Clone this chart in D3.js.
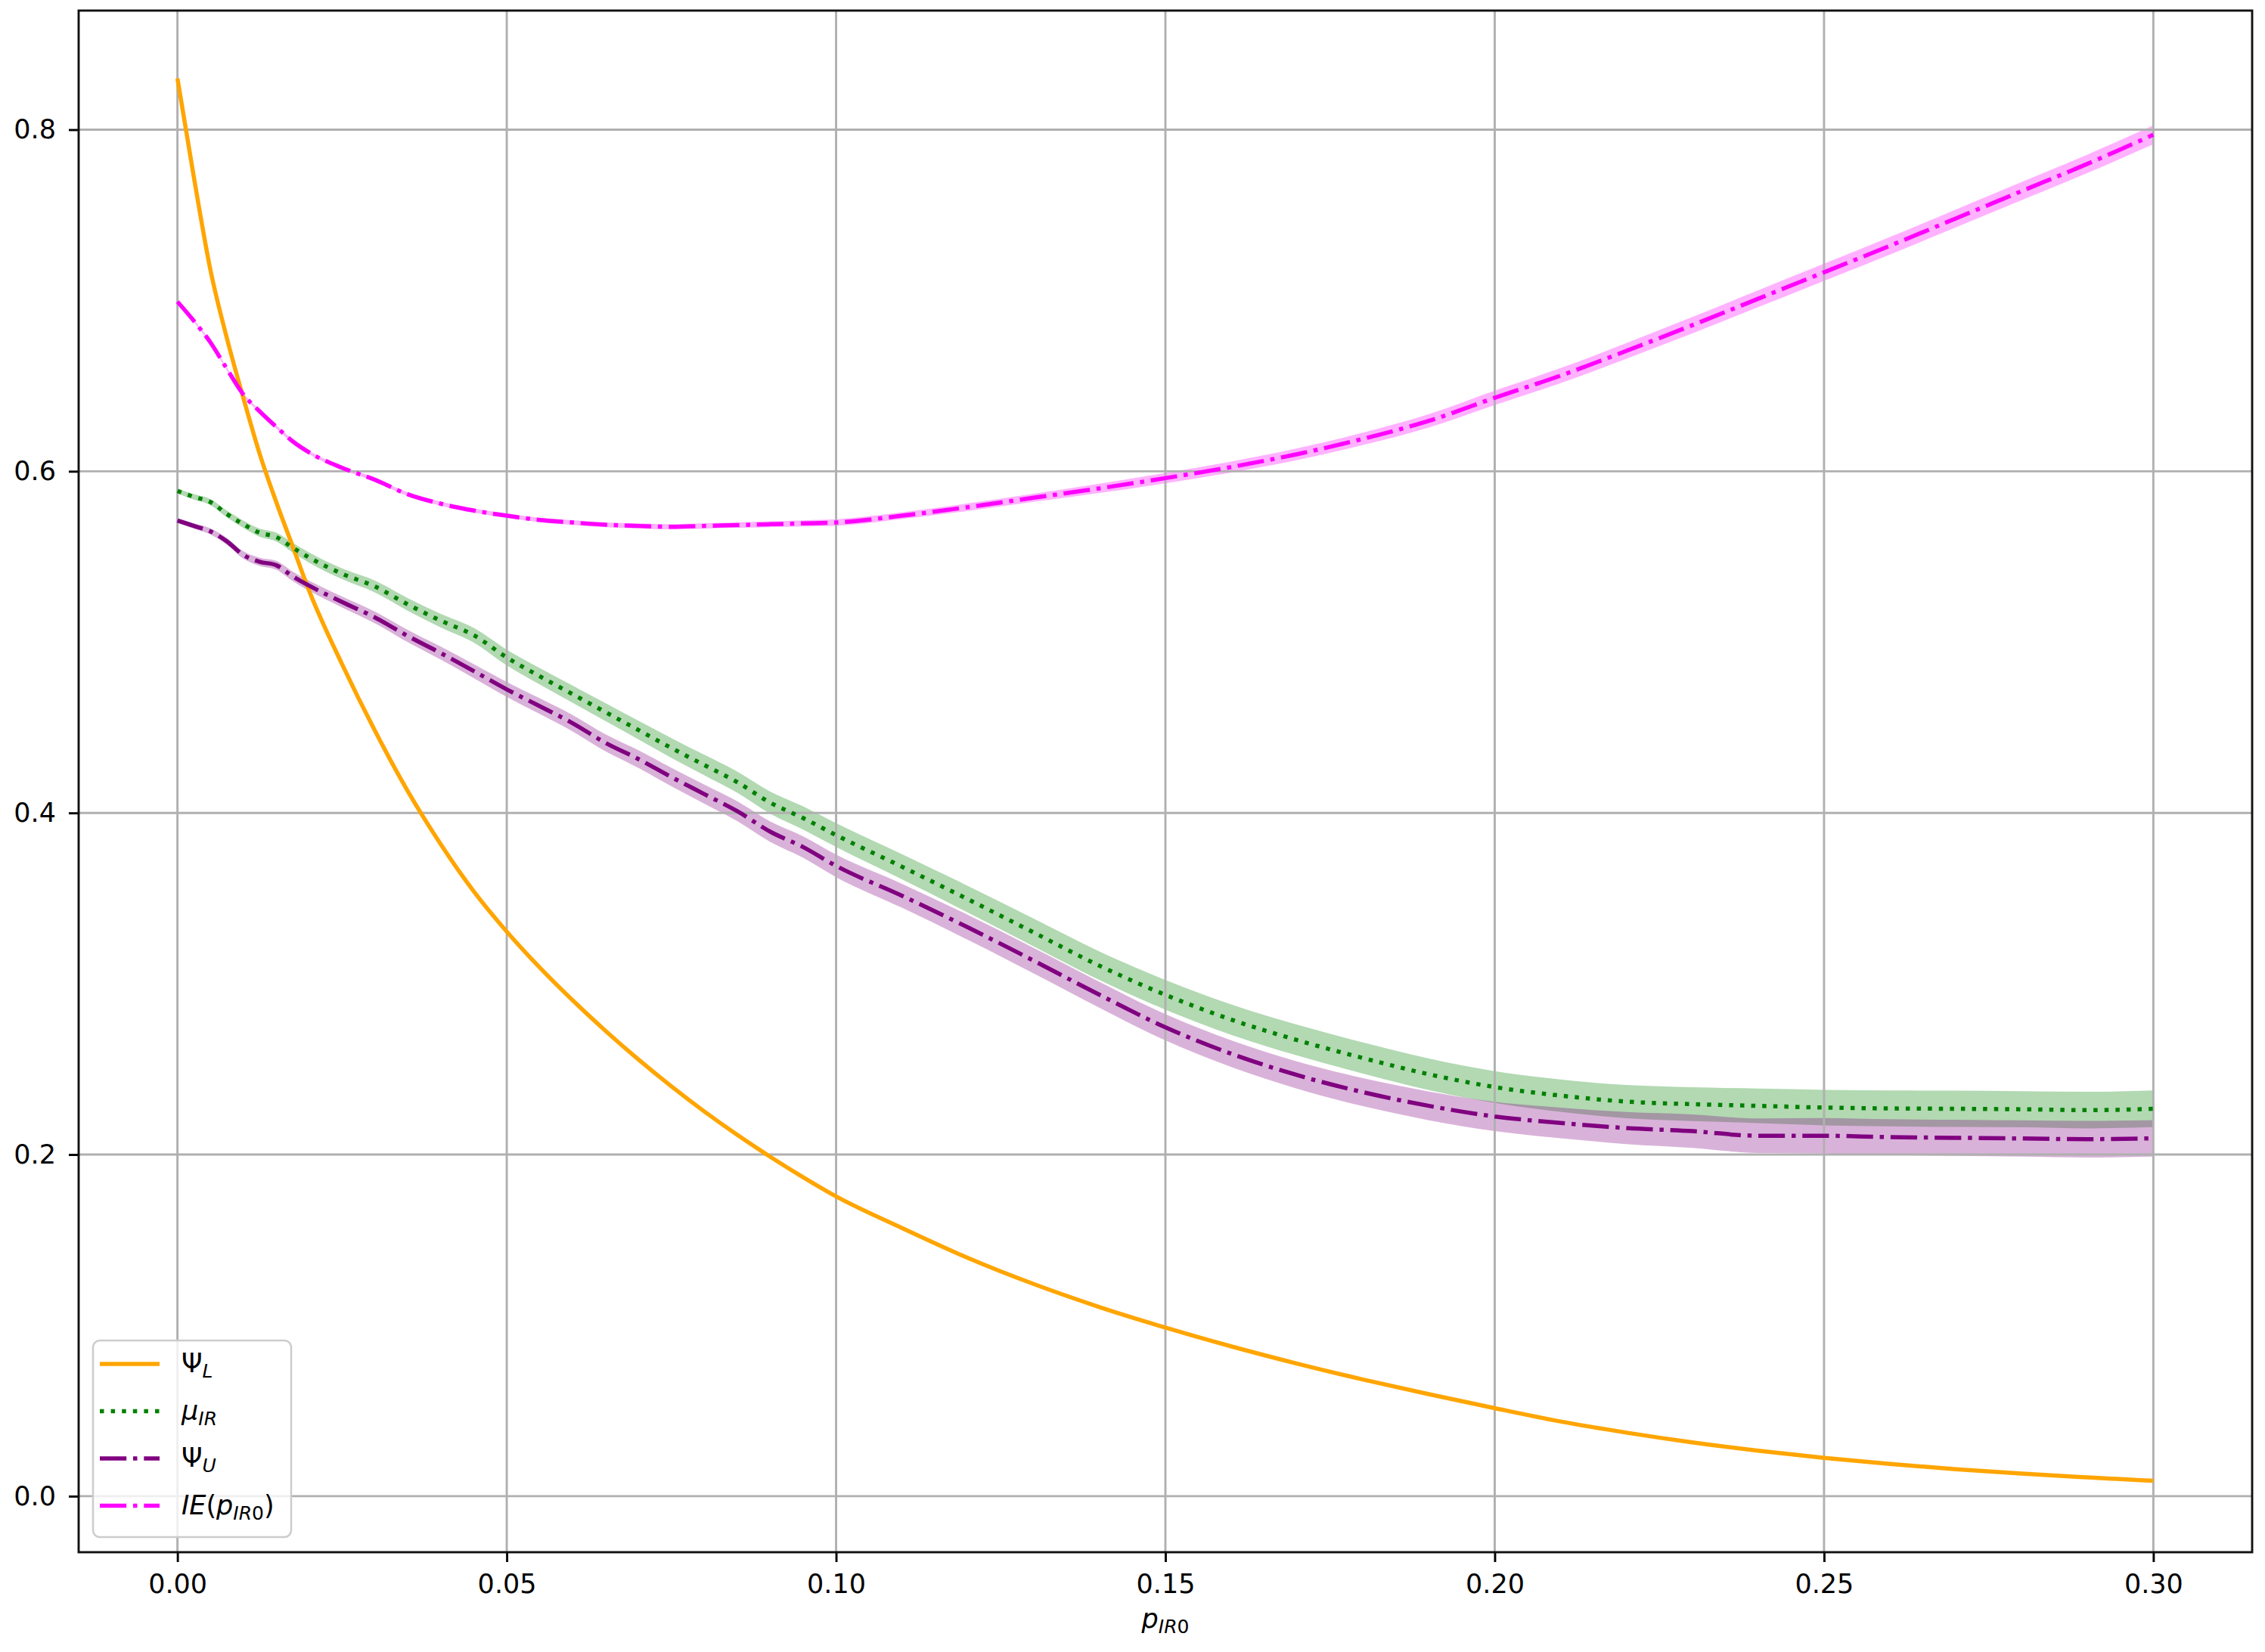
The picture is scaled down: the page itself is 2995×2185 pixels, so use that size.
<!DOCTYPE html>
<html><head><meta charset="utf-8">
<script src="https://cdn.jsdelivr.net/npm/d3@7"></script>
<style>
html,body{margin:0;padding:0;background:#fff;}
svg{display:block;}
text{font-family:"DejaVu Sans",sans-serif;}
</style>
</head><body>
<svg id="c" width="2995" height="2185"></svg>
<script>
// ---- data ----
const xs = [0, 0.0025, 0.005, 0.0075, 0.01, 0.0125, 0.015, 0.0175, 0.02,
  0.025, 0.03, 0.035, 0.04, 0.045, 0.05, 0.055, 0.06, 0.065, 0.07, 0.075, 0.08, 0.085, 0.09, 0.095, 0.10,
  0.11, 0.12, 0.13, 0.14, 0.15, 0.16, 0.17, 0.18, 0.19, 0.20, 0.21, 0.22, 0.23, 0.24, 0.25, 0.26, 0.27, 0.28, 0.29, 0.30];

const psiL = [0.830, 0.772, 0.718, 0.678, 0.643, 0.610, 0.582, 0.556, 0.530,
  0.487, 0.448, 0.4125, 0.3815, 0.354, 0.3305, 0.3095, 0.2903, 0.2724, 0.2556, 0.2399, 0.2252, 0.2115, 0.1987, 0.1867, 0.1755,
  0.157, 0.1395, 0.1242, 0.1107, 0.0987, 0.0877, 0.0776, 0.0683, 0.0597, 0.0515, 0.0437, 0.0372, 0.0315, 0.0266, 0.0224, 0.0189, 0.0158, 0.0132, 0.011, 0.009];

const muIR = [0.5885, 0.585, 0.5820, 0.575, 0.569, 0.564, 0.5615, 0.5553, 0.5495,
  0.540, 0.5325, 0.522, 0.5125, 0.504, 0.491, 0.480, 0.4695, 0.459, 0.4485, 0.438, 0.428, 0.418, 0.406, 0.397, 0.387,
  0.3685, 0.3495, 0.330, 0.3105, 0.2935, 0.279, 0.267, 0.2565, 0.247, 0.2395, 0.2345, 0.231, 0.2295, 0.2285, 0.2275, 0.227, 0.2268, 0.2265, 0.226, 0.2268];
const muIRErr = [0.0015, 0.0016, 0.0018, 0.002, 0.0022, 0.0024, 0.0026, 0.0028, 0.003,
  0.0032, 0.0035, 0.0037, 0.004, 0.0043, 0.0046, 0.0048, 0.005, 0.0053, 0.0055, 0.0058, 0.006, 0.0062, 0.0065, 0.0068, 0.007,
  0.0074, 0.0078, 0.0081, 0.0084, 0.0087, 0.0089, 0.009, 0.0091, 0.0092, 0.0093, 0.0095, 0.0097, 0.0099, 0.0101, 0.0104, 0.0105, 0.0106, 0.0106, 0.0107, 0.0107];

const psiU = [0.5712, 0.568, 0.5648, 0.559, 0.551, 0.547, 0.545, 0.5385, 0.533,
  0.5235, 0.5144, 0.5035, 0.4935, 0.483, 0.4723, 0.4625, 0.4525, 0.441, 0.4315, 0.421, 0.411, 0.401, 0.389, 0.380, 0.369,
  0.3515, 0.333, 0.3135, 0.2935, 0.2745, 0.259, 0.2465, 0.2365, 0.2285, 0.2223, 0.2185, 0.2155, 0.2137, 0.211, 0.211, 0.2102, 0.2098, 0.2094, 0.209, 0.2095];
const psiUErr = [0.0015, 0.0016, 0.0018, 0.002, 0.0022, 0.0024, 0.0026, 0.0028, 0.003,
  0.0032, 0.0034, 0.0036, 0.0038, 0.0041, 0.0044, 0.0046, 0.0048, 0.005, 0.0052, 0.0054, 0.0056, 0.0058, 0.006, 0.0063, 0.0066,
  0.007, 0.0073, 0.0075, 0.0076, 0.0077, 0.0078, 0.008, 0.0082, 0.0084, 0.0086, 0.009, 0.0094, 0.0098, 0.0101, 0.0104, 0.0105, 0.0106, 0.0106, 0.0107, 0.0107];

const ieP = [0.6993, 0.688, 0.6755, 0.660, 0.645, 0.635, 0.626, 0.6175, 0.611,
  0.602, 0.595, 0.5865, 0.581, 0.577, 0.574, 0.5715, 0.570, 0.5687, 0.568, 0.5675, 0.568, 0.5685, 0.569, 0.5695, 0.570,
  0.574, 0.579, 0.5845, 0.590, 0.596, 0.6025, 0.610, 0.619, 0.6295, 0.643, 0.656, 0.6705, 0.6855, 0.701, 0.7165, 0.732, 0.748, 0.764, 0.780, 0.797];
const iePErr = [0.0008, 0.0008, 0.0008, 0.0009, 0.0009, 0.0009, 0.001, 0.001, 0.001,
  0.001, 0.0011, 0.0011, 0.0012, 0.0012, 0.0013, 0.0013, 0.0014, 0.0014, 0.0015, 0.0015, 0.0016, 0.0016, 0.0017, 0.0018, 0.0019,
  0.002, 0.0022, 0.0024, 0.0027, 0.003, 0.0032, 0.0034, 0.0036, 0.0039, 0.0042, 0.0044, 0.0046, 0.0048, 0.0049, 0.005, 0.0051, 0.0052, 0.0053, 0.0054, 0.0055];

const xTicks = [0, 0.05, 0.10, 0.15, 0.20, 0.25, 0.30];
const yTicks = [0.0, 0.2, 0.4, 0.6, 0.8];

// ---- layout ----
const svg = d3.select("#c");
const plot = {left: 104, right: 2978, top: 14, bottom: 2053};
const x = d3.scaleLinear().domain([-0.015, 0.315]).range([plot.left, plot.right]);
const y = d3.scaleLinear().domain([-0.0328, 0.8697]).range([plot.bottom, plot.top]);
const FS = 35;
const LW = 5.5;

// bands (under grid)
const bands = [
  {v: muIR, e: muIRErr, color: "#008000"},
  {v: psiU, e: psiUErr, color: "#800080"},
  {v: ieP, e: iePErr, color: "#ff00ff"}
];
const area = d3.area().x(d => x(d.x)).y0(d => y(d.lo)).y1(d => y(d.hi)).curve(d3.curveMonotoneX);
bands.forEach(b => {
  const pts = xs.map((xv, i) => ({x: xv, lo: b.v[i] - b.e[i], hi: b.v[i] + b.e[i]}));
  svg.append("path").attr("d", area(pts)).attr("fill", b.color).attr("fill-opacity", 0.3).attr("stroke", "none");
});

// grid
const grid = svg.append("g").attr("stroke", "#b0b0b0").attr("stroke-width", 2.9);
xTicks.forEach(t => grid.append("line").attr("x1", x(t)).attr("x2", x(t)).attr("y1", plot.top).attr("y2", plot.bottom));
yTicks.forEach(t => grid.append("line").attr("y1", y(t)).attr("y2", y(t)).attr("x1", plot.left).attr("x2", plot.right));

// lines
const series = [
  {v: psiL, color: "orange", dash: null},
  {v: muIR, color: "#008000", dash: "5.5,9.1"},
  {v: psiU, color: "#800080", dash: "35.2,8.8,5.5,8.8"},
  {v: ieP, color: "#ff00ff", dash: "35.2,8.8,5.5,8.8"}
];
const line = d3.line().x(d => x(d[0])).y(d => y(d[1])).curve(d3.curveMonotoneX);
series.forEach(s => {
  const p = svg.append("path").attr("d", line(xs.map((xv, i) => [xv, s.v[i]])))
    .attr("fill", "none").attr("stroke", s.color).attr("stroke-width", LW);
  if (s.dash) p.attr("stroke-dasharray", s.dash);
});

// axes
const xAxis = d3.axisBottom(x).tickValues(xTicks).tickFormat(d3.format(".2f")).tickSize(13).tickPadding(16);
const yAxis = d3.axisLeft(y).tickValues(yTicks).tickFormat(d3.format(".1f")).tickSize(13).tickPadding(17);
const gx = svg.append("g").attr("transform", `translate(0,${plot.bottom})`).call(xAxis);
const gy = svg.append("g").attr("transform", `translate(${plot.left},0)`).call(yAxis);
[gx, gy].forEach(g => {
  g.select(".domain").remove();
  g.selectAll(".tick line").attr("stroke", "#000").attr("stroke-width", 2.9);
  g.selectAll(".tick text").attr("fill", "#000").style("font-size", FS + "px").style("font-family", "DejaVu Sans");
});

// frame
svg.append("rect").attr("x", plot.left).attr("y", plot.top)
  .attr("width", plot.right - plot.left).attr("height", plot.bottom - plot.top)
  .attr("fill", "none").attr("stroke", "#111").attr("stroke-width", 2.9);

// x label  p_IR0
const xl = svg.append("text").attr("x", (plot.left + plot.right) / 2).attr("y", 2153)
  .attr("text-anchor", "middle").style("font-size", FS + "px");
xl.append("tspan").style("font-style", "italic").text("p");
xl.append("tspan").style("font-style", "italic").style("font-size", "25px").attr("dy", 7).text("IR");
xl.append("tspan").style("font-size", "25px").text("0");

// legend
const legend = svg.append("g");
legend.append("rect").attr("x", 123).attr("y", 1773).attr("width", 262).attr("height", 260)
  .attr("rx", 9).attr("fill", "#fff").attr("fill-opacity", 0.8).attr("stroke", "#cccccc").attr("stroke-width", 2.5);
const labels = [
  [{t: "Ψ"}, {t: "L", sub: true, it: true}],
  [{t: "μ", it: true}, {t: "IR", sub: true, it: true}],
  [{t: "Ψ"}, {t: "U", sub: true, it: true}],
  [{t: "IE", it: true}, {t: "("}, {t: "p", it: true}, {t: "IR", sub: true, it: true}, {t: "0", sub: true}, {t: ")"}]
];
series.forEach((s, i) => {
  const ry = 1804 + i * 62.5;
  const l = legend.append("line").attr("x1", 132).attr("x2", 211).attr("y1", ry).attr("y2", ry)
    .attr("stroke", s.color).attr("stroke-width", LW);
  if (s.dash) l.attr("stroke-dasharray", s.dash);
  const t = legend.append("text").attr("x", 240).attr("y", ry + 11).style("font-size", FS + "px");
  let shifted = false;
  labels[i].forEach(seg => {
    const sp = t.append("tspan").text(seg.t);
    if (seg.it) sp.style("font-style", "italic");
    if (seg.sub) {
      sp.style("font-size", "25px");
      if (!shifted) { sp.attr("dy", 7); shifted = true; }
    } else if (shifted) {
      sp.attr("dy", -7); shifted = false;
    }
  });
});
</script>
</body></html>
